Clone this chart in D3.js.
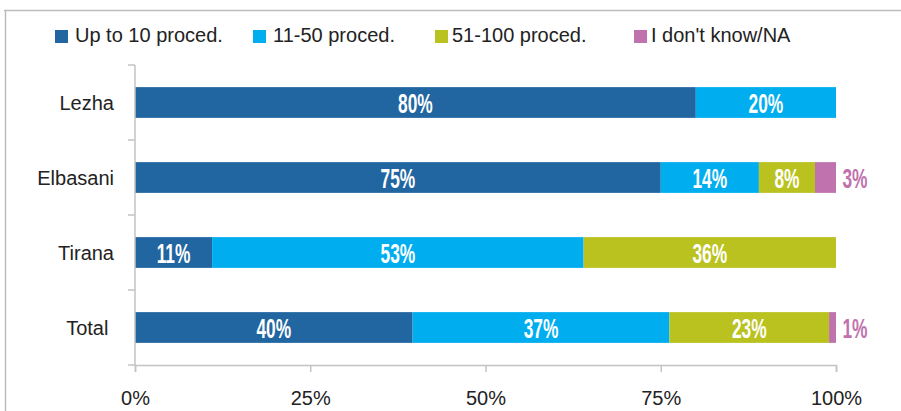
<!DOCTYPE html>
<html>
<head>
<meta charset="utf-8">
<script src="https://cdn.jsdelivr.net/npm/d3@7"></script>
<style>
  html, body { margin: 0; padding: 0; background: #fff; }
  svg { display: block; }
  text { font-family: "Liberation Sans", Arial, sans-serif; }
</style>
</head>
<body>
<div id="chart"></div>
<script>
// data
var regions = ["Lezha", "Elbasani", "Tirana", "Total"];
var seriesNames = ["Up to 10 proced.", "11-50 proced.", "51-100 proced.", "I don't know/NA"];
var upTo10 = [80, 75, 11, 40];
var from11to50 = [20, 14, 53, 37];
var from51to100 = [0, 8, 36, 23];
var dontKnow = [0, 3, 0, 1];
var xTicks = [0, 25, 50, 75, 100];

var colors = ["#2166a1", "#00aeef", "#b9c21f", "#bf72ad"];

var width = 901, height = 411;
var margin = {top: 65, right: 65, bottom: 46, left: 135};

var svg = d3.select("#chart").append("svg")
  .attr("width", width)
  .attr("height", height);

// outer frame (only top + left visible in the crop)
svg.append("line").attr("x1", 4).attr("x2", width).attr("y1", 10.5).attr("y2", 10.5)
  .attr("stroke", "#bcbcbc").attr("stroke-width", 1.5);
svg.append("line").attr("x1", 5.5).attr("x2", 5.5).attr("y1", 10).attr("y2", height)
  .attr("stroke", "#bcbcbc").attr("stroke-width", 1.5);

var x = d3.scaleLinear()
  .domain([0, 100])
  .range([margin.left, width - margin.right]);

var y = d3.scaleBand()
  .domain(regions)
  .range([margin.top, height - margin.bottom])
  .paddingInner(0.59)
  .paddingOuter(0.295);

var step = y.step();

// stack, each row normalised to 100%
var rows = regions.map(function(r, i) {
  return {region: r, a: upTo10[i], b: from11to50[i], c: from51to100[i], d: dontKnow[i]};
});
var keys = ["a", "b", "c", "d"];
var stack = d3.stack().keys(keys).offset(d3.stackOffsetExpand);
var layers = stack(rows);

var g = svg.append("g");

layers.forEach(function(layer, li) {
  g.append("g").selectAll("rect")
    .data(layer.filter(function(d) { return d.data[keys[li]] > 0; }))
    .enter().append("rect")
      .attr("x", function(d) { return x(d[0] * 100); })
      .attr("width", function(d) { return x(d[1] * 100) - x(d[0] * 100); })
      .attr("y", function(d) { return y(d.data.region); })
      .attr("height", y.bandwidth())
      .attr("fill", colors[li]);
});

// axes
var axisColor = "#c3c3c3";
var yAxis = svg.append("g");
yAxis.append("line")
  .attr("x1", x(0)).attr("x2", x(0))
  .attr("y1", margin.top).attr("y2", height - margin.bottom)
  .attr("stroke", axisColor).attr("stroke-width", 1.5);
var yEdges = regions.map(function(r) { return y(r) - (step - y.bandwidth()) / 2; });
yEdges.push(height - margin.bottom);
yAxis.selectAll("line.tick")
  .data(yEdges)
  .enter().append("line")
    .attr("class", "tick")
    .attr("x1", x(0) - 7).attr("x2", x(0))
    .attr("y1", function(d) { return d; }).attr("y2", function(d) { return d; })
    .attr("stroke", axisColor).attr("stroke-width", 1.5);

yAxis.selectAll("text")
  .data(regions)
  .enter().append("text")
    .attr("x", 114)
    .attr("y", function(d) { return y(d) + y.bandwidth() / 2 + 7.5; })
    .attr("text-anchor", "end")
    .attr("font-size", 20)
    .attr("fill", "#222")
    .text(function(d) { return d === "Total" ? "Total\u00a0" : d; });

var xAxis = svg.append("g")
  .attr("transform", "translate(0," + (height - margin.bottom) + ")")
  .call(d3.axisBottom(x).tickValues(xTicks).tickSize(7).tickPadding(19)
    .tickFormat(function(d) { return d + "%"; }));
xAxis.select(".domain").attr("stroke", axisColor).attr("stroke-width", 1.5);
xAxis.selectAll(".tick line").attr("stroke", axisColor).attr("stroke-width", 1.5);
xAxis.selectAll(".tick text")
  .attr("font-family", "Liberation Sans, Arial, sans-serif")
  .attr("font-size", 20)
  .attr("fill", "#222");

// value labels (condensed bold look)
layers.forEach(function(layer, li) {
  g.append("g").selectAll("text")
    .data(layer.filter(function(d) { return d.data[keys[li]] > 0; }))
    .enter().append("text")
      .attr("transform", function(d) {
        var v = d.data[keys[li]];
        var cx = v < 5 ? x(100) + 19 : (x(d[0] * 100) + x(d[1] * 100)) / 2;
        var cy = y(d.data.region) + y.bandwidth() / 2 + 10;
        return "translate(" + cx + "," + cy + ") scale(0.62,1)";
      })
      .attr("text-anchor", "middle")
      .attr("font-size", 28)
      .attr("font-weight", "bold")
      .attr("fill", function(d) { return d.data[keys[li]] < 5 ? colors[3] : "#fff"; })
      .text(function(d) { return d.data[keys[li]] + "%"; });
});

// legend
var legendX = [55, 253, 435, 634];
var legend = svg.append("g").selectAll("g")
  .data(seriesNames)
  .enter().append("g")
    .attr("transform", function(d, i) { return "translate(" + legendX[i] + ",30)"; });
legend.append("rect")
  .attr("width", 13).attr("height", 13)
  .attr("fill", function(d, i) { return colors[i]; });
legend.append("text")
  .attr("x", function(d, i) { return i < 2 ? 20 : 17; })
  .attr("y", 12)
  .attr("font-size", 20)
  .attr("fill", "#222")
  .text(function(d) { return d; });
</script>
</body>
</html>
